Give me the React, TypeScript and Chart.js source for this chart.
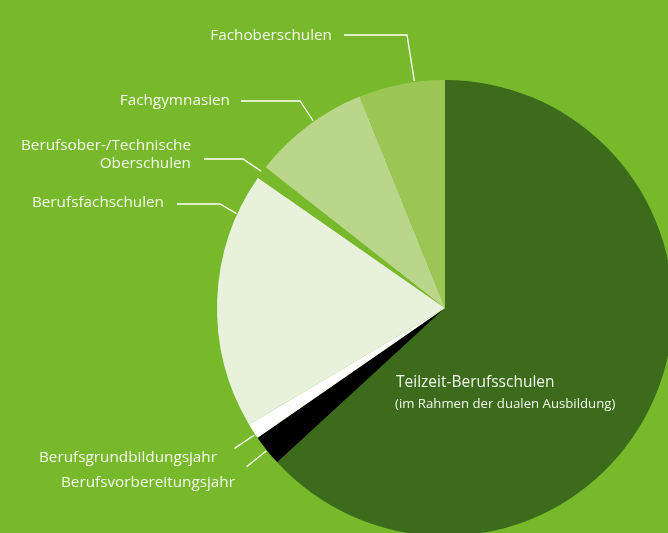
import React, { useEffect, useRef } from "react";
import { Chart, registerables } from "chart.js";

Chart.register(...registerables);

const categories: (string | string[])[] = [
  "Teilzeit-Berufsschulen",
  "Berufsvorbereitungsjahr",
  "Berufsgrundbildungsjahr",
  "Berufsfachschulen",
  ["Berufsober-/Technische", "Oberschulen"],
  "Fachgymnasien",
  "Fachoberschulen",
];
const subtitle = "(im Rahmen der dualen Ausbildung)";
const shares = [63.1, 2.2, 1.1, 18.2, 0.9, 8.3, 6.1];
const colors = ["#3b6b1b", "#000000", "#ffffff", "#e8f1db", "#78b82b", "#b9d68a", "#9cc653"];

const BG = "#78b82b";
const TEXT = "#f3f8ec";
const FONT = "'Open Sans', sans-serif";

type Layout =
  | { kind: "inside"; x: number; y: number; subY: number }
  | { kind: "elbow"; right: number; y: number; lineH: number; lineX: number; ex: number; ey: number; frac: number }
  | { kind: "radial"; right: number; y: number; frac: number; len: number };

const layouts: Layout[] = [
  { kind: "inside", x: 396, y: 383, subY: 404 },
  { kind: "radial", right: 235, y: 483, frac: 0.5, len: 26 },
  { kind: "radial", right: 217, y: 458, frac: 0.25, len: 25 },
  { kind: "elbow", right: 164, y: 203, lineH: 0, lineX: 177, ex: 220, ey: 204, frac: 0.84 },
  { kind: "elbow", right: 191, y: 146, lineH: 18, lineX: 204, ex: 243, ey: 159, frac: 0.55 },
  { kind: "elbow", right: 230, y: 101, lineH: 0, lineX: 241, ex: 300, ey: 101, frac: 0.56 },
  { kind: "elbow", right: 332, y: 36, lineH: 0, lineX: 344, ex: 407, ey: 35, frac: 0.65 },
];

const labelPlugin = {
  id: "pieLabels",
  afterDraw(chart: any) {
    const ctx: CanvasRenderingContext2D = chart.ctx;
    const meta = chart.getDatasetMeta(0);
    ctx.save();
    ctx.fillStyle = TEXT;
    ctx.strokeStyle = "#ffffff";
    ctx.lineWidth = 1.3;
    ctx.textBaseline = "middle";
    meta.data.forEach((arc: any, i: number) => {
      const L = layouts[i];
      const lab = categories[i];
      const lines = Array.isArray(lab) ? lab : [lab];
      if (L.kind === "inside") {
        ctx.textAlign = "left";
        ctx.font = `15.5px ${FONT}`;
        ctx.fillText(lines[0], L.x, L.y);
        ctx.font = `13.2px ${FONT}`;
        ctx.fillText(subtitle, L.x - 1, L.subY);
        return;
      }
      const p = arc.getProps(["x", "y", "startAngle", "endAngle", "outerRadius"], true);
      const a = p.startAngle + L.frac * (p.endAngle - p.startAngle);
      const r = p.outerRadius;
      const ax = p.x + Math.cos(a) * (r + 1);
      const ay = p.y + Math.sin(a) * (r + 1);
      ctx.font = `15.3px ${FONT}`;
      ctx.textAlign = "right";
      if (L.kind === "elbow") {
        lines.forEach((t, k) => ctx.fillText(t, L.right, L.y + k * L.lineH));
        ctx.beginPath();
        ctx.moveTo(L.lineX, L.ey);
        ctx.lineTo(L.ex, L.ey);
        ctx.lineTo(ax, ay);
        ctx.stroke();
      } else {
        lines.forEach((t, k) => ctx.fillText(t, L.right, L.y + k * 18));
        const bx = p.x + Math.cos(a) * (r + L.len);
        const by = p.y + Math.sin(a) * (r + L.len);
        ctx.beginPath();
        ctx.moveTo(ax, ay);
        ctx.lineTo(bx, by);
        ctx.stroke();
      }
    });
    ctx.restore();
  },
};

export default function App() {
  const ref = useRef<HTMLCanvasElement>(null);
  useEffect(() => {
    if (!ref.current) return;
    const chart = new Chart(ref.current, {
      type: "pie",
      data: {
        labels: categories as any,
        datasets: [
          {
            data: shares,
            backgroundColor: colors,
            borderWidth: 0,
            hoverOffset: 0,
            offset: 0,
          },
        ],
      },
      options: {
        animation: false,
        responsive: false,
        devicePixelRatio: 1,
        events: [],
        layout: { padding: { left: 217, top: 80, right: 27, bottom: 24 } },
        plugins: { legend: { display: false }, tooltip: { enabled: false } },
      },
      plugins: [labelPlugin],
    });
    return () => chart.destroy();
  }, []);
  return (
    <div
      style={{
        position: "fixed",
        left: 0,
        top: 0,
        width: 668,
        height: 533,
        overflow: "hidden",
        background: BG,
      }}
    >
      <canvas ref={ref} width={700} height={560} style={{ display: "block", width: 700, height: 560 }} />
    </div>
  );
}
